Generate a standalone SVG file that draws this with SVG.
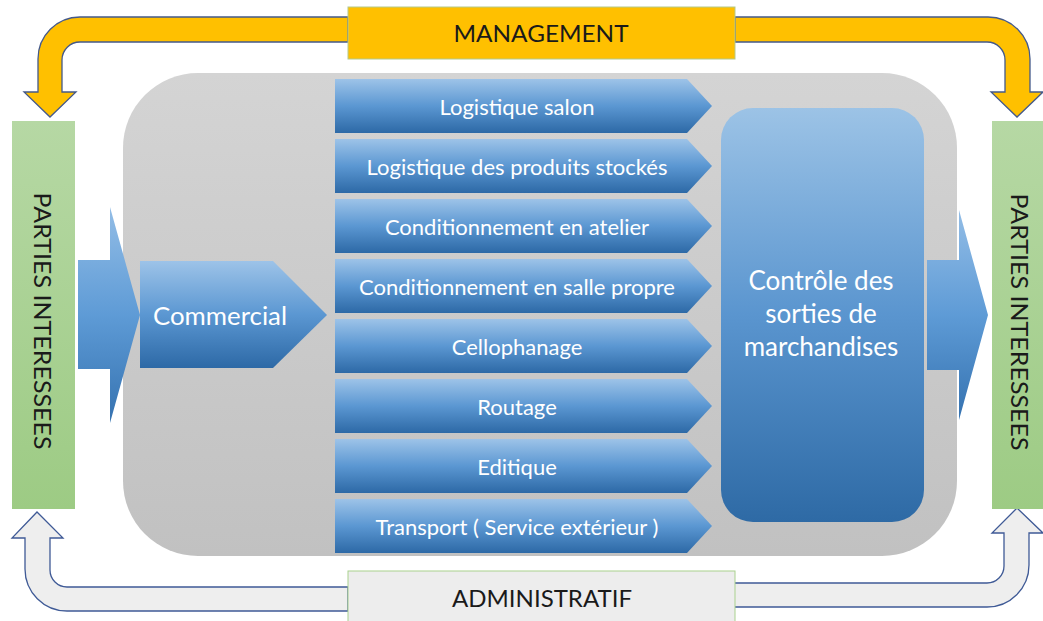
<svg xmlns="http://www.w3.org/2000/svg" width="1043" height="621" viewBox="0 0 1043 621">
<style>
.lbl{font-family:Lato,"Liberation Sans",sans-serif;fill:#ffffff;text-anchor:middle}
.dark{font-family:Lato,"Liberation Sans",sans-serif;fill:#1a1a1a;text-anchor:middle}
.chev{fill:url(#gBlue)}
.ct{font-size:22px}
.ya{fill:#ffc000;stroke:#44598a;stroke-width:1.3}
.ga{fill:#eeeeee;stroke:#3f5a96;stroke-width:1.3}
</style>
<defs>
<linearGradient id="gBlue" x1="0" y1="0" x2="0" y2="1">
<stop offset="0" stop-color="#9dc3e8"/>
<stop offset="0.5" stop-color="#5b97d2"/>
<stop offset="1" stop-color="#2d69a6"/>
</linearGradient>
<linearGradient id="gCtrl" x1="0" y1="0" x2="0" y2="1">
<stop offset="0" stop-color="#9cc3e6"/>
<stop offset="0.5" stop-color="#5a95cf"/>
<stop offset="1" stop-color="#2e6aa5"/>
</linearGradient>
<linearGradient id="gArrow" x1="0" y1="0" x2="0" y2="1">
<stop offset="0" stop-color="#93bde6"/>
<stop offset="0.5" stop-color="#5e9bd6"/>
<stop offset="1" stop-color="#3572b0"/>
</linearGradient>
<linearGradient id="gGray" x1="0" y1="0" x2="0" y2="1">
<stop offset="0" stop-color="#d4d4d4"/>
<stop offset="1" stop-color="#c1c1c1"/>
</linearGradient>
<linearGradient id="gGreen" x1="0" y1="0" x2="0" y2="1">
<stop offset="0" stop-color="#b6d8a4"/>
<stop offset="1" stop-color="#9dcb84"/>
</linearGradient>
</defs>
<rect width="1043" height="621" fill="#ffffff"/>

<g id="process-area">
<rect x="123" y="73" width="834" height="483" rx="75" ry="75" fill="url(#gGray)"/>
</g>

<g id="connectors">
<path class="ya" d="M348,17 L80,17 A42,42 0 0 0 38,59 L38,92 L24,92 L50,117 L76,92 L62,92 L62,60 A18,18 0 0 1 80,42 L348,42 Z"/>
<path class="ya" d="M735,17 L988,17 A42,42 0 0 1 1030,59 L1030,92 L1043,92 L1017,117 L991,92 L1005,92 L1005,60 A18,18 0 0 0 987,42 L735,42 Z"/>
<path class="ga" d="M348,611 L67,611 A42,42 0 0 1 25,569 L25,538 L12,538 L37,512 L63,538 L50,538 L50,570 A17,17 0 0 0 67,587 L348,587 Z"/>
<path class="ga" d="M734,607 L987,607 A42,42 0 0 0 1029,565 L1029,533 L1043,533 L1017,508 L992,533 L1004,533 L1004,566 A17,17 0 0 1 987,583 L734,583 Z"/>
<path fill="url(#gArrow)" d="M78,260 L110,260 L110,207 L140,315 L110,423 L110,369 L78,369 Z"/>
<path fill="url(#gArrow)" d="M927,260 L959,260 L959,210 L988,315 L959,420 L959,370 L927,370 Z"/>
</g>

<g id="management">
<rect x="348" y="7" width="387" height="52" fill="#ffc000" stroke="#b5c98a" stroke-width="1"/>
<text class="dark" x="541" y="42" font-size="23" textLength="175" lengthAdjust="spacingAndGlyphs">MANAGEMENT</text>
</g>

<g id="administratif">
<rect x="348" y="571" width="387" height="60" fill="#ededed" stroke="#a9d18e" stroke-width="1"/>
<text class="dark" x="542" y="607" font-size="23" textLength="180" lengthAdjust="spacingAndGlyphs">ADMINISTRATIF</text>
</g>

<g id="parties-left">
<rect x="12" y="121" width="63" height="388" fill="url(#gGreen)"/>
<text class="dark" x="43" y="321" font-size="24" dominant-baseline="central" transform="rotate(90 43 321)" textLength="257" lengthAdjust="spacingAndGlyphs">PARTIES INTERESSEES</text>
</g>

<g id="parties-right">
<rect x="992" y="121" width="63" height="388" fill="url(#gGreen)"/>
<text class="dark" x="1020" y="322" font-size="24" dominant-baseline="central" transform="rotate(90 1020 322)" textLength="257" lengthAdjust="spacingAndGlyphs">PARTIES INTERESSEES</text>
</g>

<g id="commercial">
<path class="chev" d="M140,261 L273,261 L327,315 L273,368 L140,368 Z"/>
<text class="lbl" x="220" y="325" font-size="25" textLength="134" lengthAdjust="spacingAndGlyphs">Commercial</text>
</g>

<g id="p1"><path class="chev" d="M335,79 L687,79 L712,106 L687,133 L335,133 Z"/><text class="lbl ct" x="517" y="115">Logistique salon</text></g>
<g id="p2"><path class="chev" d="M335,139 L687,139 L712,166 L687,193 L335,193 Z"/><text class="lbl ct" x="517" y="175">Logistique des produits stockés</text></g>
<g id="p3"><path class="chev" d="M335,199 L687,199 L712,226 L687,253 L335,253 Z"/><text class="lbl ct" x="517" y="235">Conditionnement  en atelier</text></g>
<g id="p4"><path class="chev" d="M335,259 L687,259 L712,286 L687,313 L335,313 Z"/><text class="lbl ct" x="517" y="295">Conditionnement  en salle propre</text></g>
<g id="p5"><path class="chev" d="M335,319 L687,319 L712,346 L687,373 L335,373 Z"/><text class="lbl ct" x="517" y="355">Cellophanage</text></g>
<g id="p6"><path class="chev" d="M335,379 L687,379 L712,406 L687,433 L335,433 Z"/><text class="lbl ct" x="517" y="415">Routage</text></g>
<g id="p7"><path class="chev" d="M335,439 L687,439 L712,466 L687,493 L335,493 Z"/><text class="lbl ct" x="517" y="475">Editique</text></g>
<g id="p8"><path class="chev" d="M335,499 L687,499 L712,526 L687,553 L335,553 Z"/><text class="lbl ct" x="517" y="535">Transport ( Service extérieur )</text></g>

<g id="controle">
<rect x="721" y="108" width="203" height="414" rx="32" ry="32" fill="url(#gCtrl)"/>
<text class="lbl" font-size="26"><tspan x="821" y="290">Contrôle des</tspan><tspan x="821" y="323">sorties de</tspan><tspan x="821" y="356">marchandises</tspan></text>
</g>
</svg>
